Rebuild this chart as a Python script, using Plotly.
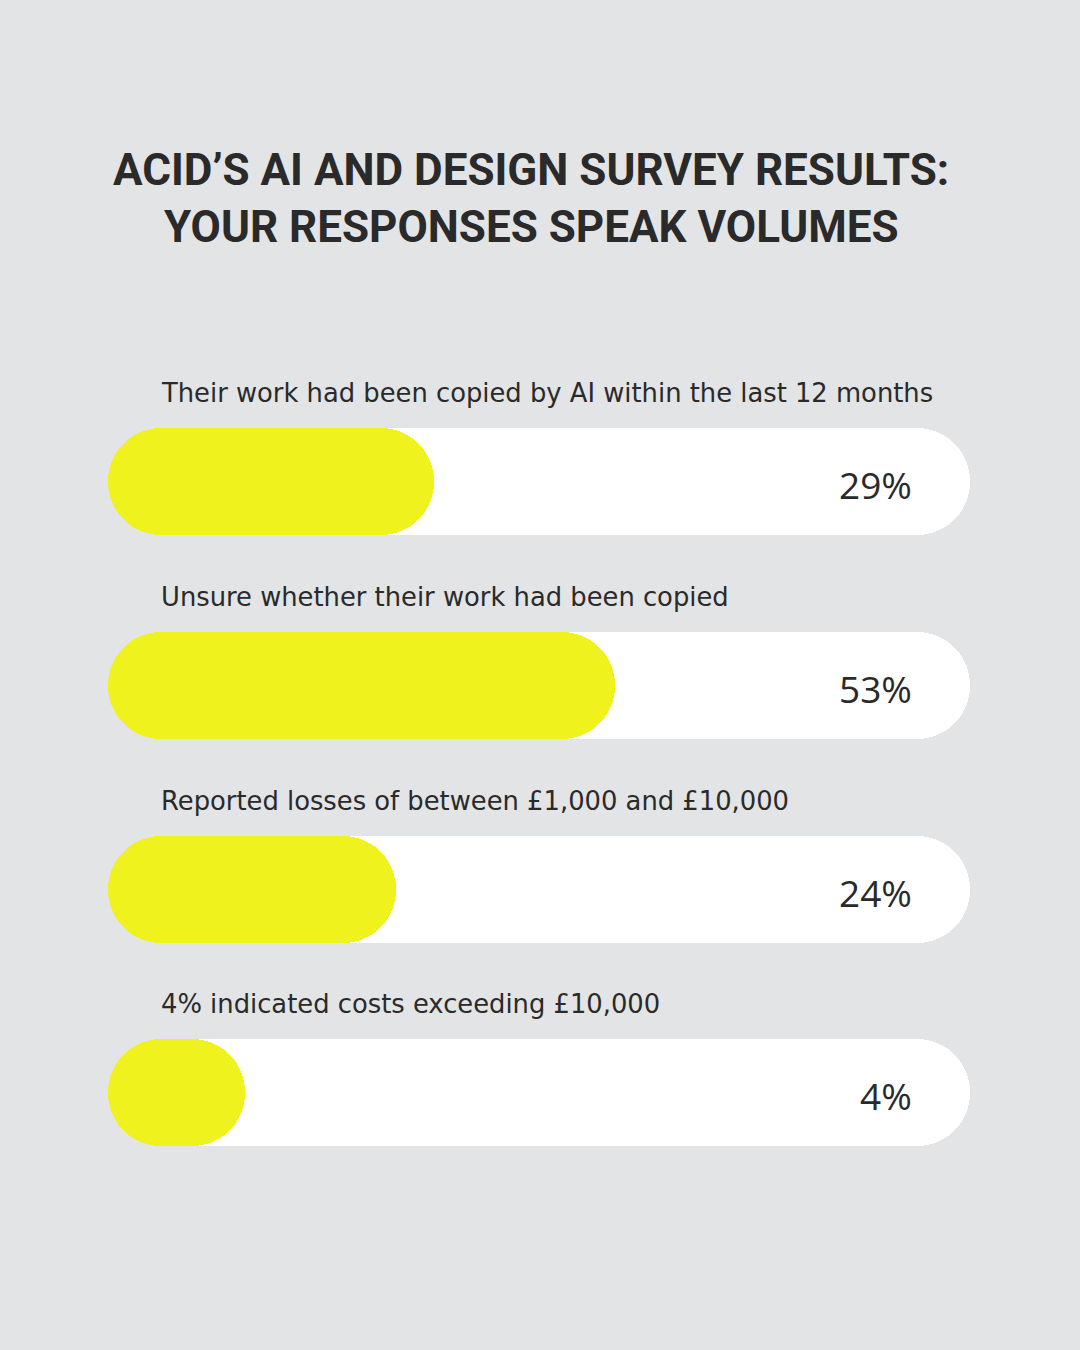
import plotly.graph_objects as go

# ---- data ----
labels = [
    "Their work had been copied by AI within the last 12 months",
    "Unsure whether their work had been copied",
    "Reported losses of between £1,000 and £10,000",
    "4% indicated costs exceeding £10,000",
]
values = [29, 53, 24, 4]
value_text = ["29%", "53%", "24%", "4%"]
track_max = 100
title_lines = ["ACID’S AI AND DESIGN SURVEY RESULTS:", "YOUR RESPONSES SPEAK VOLUMES"]

# ---- layout constants (pixel-based) ----
W, H = 1080, 1350
X0_PX = 161.5           # pixel of value 0
CAP_PX = 53.5           # radius of the rounded ends
PX_PER_UNIT = (970 - CAP_PX - X0_PX) / 100.0
CAP = CAP_PX / PX_PER_UNIT
BAR_H = 107
row_y = [481, 685, 889, 1092]

BG = "#e3e4e6"
YELLOW = "#f0f21e"
TRACK = "#ffffff"
TEXT = "#2a2a2a"

fig = go.Figure()

# track pills
fig.add_trace(go.Bar(
    y=row_y, x=[track_max + 2 * CAP] * len(row_y), base=[-CAP] * len(row_y),
    orientation="h", width=BAR_H,
    marker=dict(color=TRACK, cornerradius=CAP_PX, line=dict(width=0)),
    hoverinfo="skip", showlegend=False))

# yellow value pills
fig.add_trace(go.Bar(
    y=row_y, x=[v + 2 * CAP for v in values], base=[-CAP] * len(values),
    orientation="h", width=BAR_H,
    marker=dict(color=YELLOW, cornerradius=CAP_PX, line=dict(width=0)),
    hoverinfo="skip", showlegend=False))

annotations = []
# title
for line, yy in zip(title_lines, [170, 227]):
    annotations.append(dict(
        x=531 / W, xref="paper", y=yy, yref="y", text=f"<b>{line}</b>", showarrow=False,
        xanchor="center", yanchor="middle",
        font=dict(family="Liberation Sans Narrow, Roboto, sans-serif", size=44, color=TEXT)))

# labels and values
lab_x = (159 - X0_PX) / PX_PER_UNIT
val_x = (914 - X0_PX) / PX_PER_UNIT
for lab, vt, yy in zip(labels, value_text, row_y):
    annotations.append(dict(
        x=lab_x, xref="x", y=yy - 88, yref="y", text=lab, showarrow=False,
        xanchor="left", yanchor="middle",
        font=dict(family="DejaVu Sans, sans-serif", size=25.8, color=TEXT)))
    annotations.append(dict(
        x=val_x, xref="x", y=yy + 3, yref="y", text=vt, showarrow=False,
        xanchor="right", yanchor="middle",
        font=dict(family="Open Sans, sans-serif", size=37, color=TEXT, weight=400)))

fig.update_layout(
    width=W, height=H,
    margin=dict(l=0, r=0, t=0, b=0),
    paper_bgcolor=BG, plot_bgcolor=BG,
    barmode="overlay",
    bargap=0,
    xaxis=dict(range=[-X0_PX / PX_PER_UNIT, (W - X0_PX) / PX_PER_UNIT],
               visible=False, fixedrange=True, domain=[0, 1]),
    yaxis=dict(range=[H, 0], visible=False, fixedrange=True, domain=[0, 1]),
    annotations=annotations,
)

fig.write_html("out.html", config={"displayModeBar": False})
